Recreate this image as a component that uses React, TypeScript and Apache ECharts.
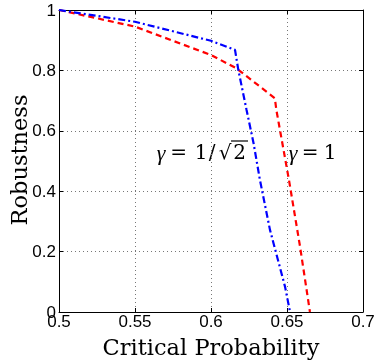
import React, { useEffect, useRef } from "react";
import * as echarts from "echarts";

const redX = [0.5, 0.55, 0.6, 0.6167, 0.642, 0.643, 0.6513, 0.6586, 0.6651];
const redY = [1.0, 0.945, 0.851, 0.807, 0.708, 0.669, 0.437, 0.216, 0.0];
const blueX = [0.5, 0.55, 0.6, 0.6158, 0.618, 0.6234, 0.628, 0.6322, 0.6388, 0.6487, 0.652];
const blueY = [1.0, 0.961, 0.898, 0.868, 0.801, 0.669, 0.559, 0.437, 0.272, 0.084, 0.0];
const xTicks = [0.5, 0.55, 0.6, 0.65, 0.7];
const yTicks = [0, 0.2, 0.4, 0.6, 0.8, 1];
const xTitle = "Critical Probability";
const yTitle = "Robustness";

export default function App() {
  const ref = useRef<HTMLDivElement>(null);
  useEffect(() => {
    const chart = echarts.init(ref.current!, null, { renderer: "svg" });
    const pairs = (xs: number[], ys: number[]) => xs.map((x, i) => [x, ys[i]]);
    const fmtX = (v: number) => {
      const s = xTicks.find((t) => Math.abs(t - v) < 1e-9);
      return s === undefined ? "" : String(+s.toFixed(2));
    };
    const fmtY = (v: number) => {
      const s = yTicks.find((t) => Math.abs(t - v) < 1e-9);
      return s === undefined ? "" : String(+s.toFixed(1));
    };
    const grid = { lineStyle: { color: "#777", type: [1, 3], width: 1 } };
    const tick = { show: true, inside: true, length: 4, lineStyle: { color: "#000" } };
    const line = { show: true, onZero: false, lineStyle: { color: "#000", width: 1 } };
    const lab = (fmt: (v: number) => string, margin: number) => ({
      fontFamily: "Liberation Sans",
      fontSize: 17,
      color: "#000",
      margin,
      formatter: fmt,
    });
    const txt = (s: string, x: number, italic = false) => ({
      type: "text",
      x,
      y: 152,
      style: {
        text: s,
        font: italic ? "italic 22px 'Liberation Serif'" : "20px 'DejaVu Serif'",
        fill: "#000",
        textAlign: "center",
        textVerticalAlign: "middle",
      },
    });
    chart.setOption({
      animation: false,
      grid: { left: 59, right: 13, top: 10, bottom: 49, containLabel: false, outerBoundsMode: "none" },
      xAxis: [
        {
          type: "value",
          min: 0.5,
          max: 0.7,
          interval: 0.05,
          name: xTitle,
          nameLocation: "middle",
          nameGap: 23,
          nameTextStyle: { fontFamily: "DejaVu Serif", fontSize: 22.5, color: "#000" },
          axisLine: line,
          axisTick: tick,
          axisLabel: lab(fmtX, 1),
          splitLine: { show: true, ...grid },
        },
        {
          type: "value",
          position: "top",
          min: 0.5,
          max: 0.7,
          interval: 0.05,
          axisLine: line,
          axisTick: tick,
          axisLabel: { show: false },
          splitLine: { show: false },
        },
      ],
      yAxis: [
        {
          type: "value",
          min: 0,
          max: 1,
          interval: 0.2,
          axisLine: line,
          axisTick: tick,
          axisLabel: lab(fmtY, 3),
          splitLine: { show: true, ...grid },
        },
        {
          type: "value",
          position: "right",
          min: 0,
          max: 1,
          interval: 0.2,
          axisLine: line,
          axisTick: tick,
          axisLabel: { show: false },
          splitLine: { show: false },
        },
      ],
      graphic: [
        {
          type: "text",
          x: 19,
          y: 160,
          rotation: Math.PI / 2,
          style: {
            text: yTitle,
            font: "22.5px 'DejaVu Serif'",
            fill: "#000",
            textAlign: "center",
            textVerticalAlign: "middle",
          },
        },
        txt("γ", 161, true),
        txt("=", 178.5),
        txt("1", 201),
        txt("/", 212),
        txt("√", 225),
        txt("2", 239.5),
        { type: "line", shape: { x1: 231, y1: 141, x2: 248, y2: 141 }, style: { stroke: "#000", lineWidth: 1.2 } },
        txt("γ", 293, true),
        txt("=", 310),
        txt("1", 330),
      ],
      series: [
        {
          type: "line",
          xAxisIndex: 0,
          yAxisIndex: 0,
          data: pairs(redX, redY),
          showSymbol: false,
          lineStyle: { color: "#ff0000", width: 2.2, type: [6, 4] },
          z: 2,
        },
        {
          type: "line",
          xAxisIndex: 0,
          yAxisIndex: 0,
          data: pairs(blueX, blueY),
          showSymbol: false,
          lineStyle: { color: "#0000ff", width: 2.2, type: [7, 3, 2, 3] },
          z: 3,
        },
      ],
    });
    return () => chart.dispose();
  }, []);
  return (
    <div style={{ position: "fixed", left: 0, top: 0 }}>
      <div ref={ref} style={{ width: 376, height: 361 }} />
    </div>
  );
}
